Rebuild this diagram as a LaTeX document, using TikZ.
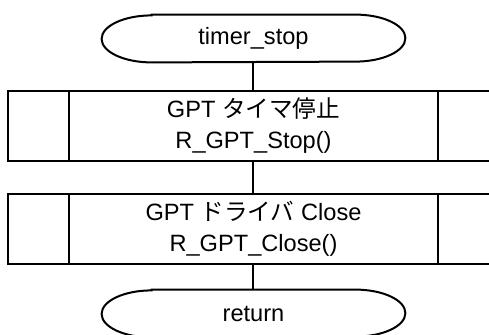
\documentclass[tikz,border=0pt]{standalone}
\usepackage{fontspec}
\setmainfont{Liberation Sans}
\newfontfamily\jpfont{Noto Sans CJK JP}
\usetikzlibrary{positioning}

\tikzset{
  every node/.style={font=\fontsize{11.8pt}{12.75pt}\selectfont},
  flow/.style={line width=1pt},
  terminal/.style={minimum width=151.5pt, minimum height=23.5pt, inner sep=0pt},
  process/.style={draw, line width=1pt, minimum width=245.5pt, minimum height=35pt,
    inner sep=0pt, align=center,
    path picture={
      \draw[line width=1pt] ([xshift=30.5pt]path picture bounding box.north west)
        -- ([xshift=30.5pt]path picture bounding box.south west);
      \draw[line width=1pt] ([xshift=-30.5pt]path picture bounding box.north east)
        -- ([xshift=-30.5pt]path picture bounding box.south east);
    }}
}
\newcommand{\termframe}[1]{%
  \draw[flow] ([xshift=25pt]#1.north west) -- ([xshift=-25pt]#1.north east)
    arc[start angle=90, end angle=-90, x radius=25pt, y radius=11.75pt]
    -- ([xshift=25pt]#1.south west)
    arc[start angle=270, end angle=90, x radius=25pt, y radius=11.75pt] -- cycle;}

\begin{document}
\begin{tikzpicture}[x=0.5pt,y=-0.5pt]
  \useasboundingbox (0,0) rectangle (489,334);
  \clip (0,0) rectangle (489,334);
  % terminals and process boxes
  \node[terminal] (start) at (253.5,38.5) {timer\_stop};
  \node[process] (stop) at (253.5,125.5) {GPT {\jpfont タイマ停止}\\[3pt]R\_GPT\_Stop()};
  \node[process] (close) at (253.5,229) {GPT {\jpfont ドライバ} Close\\[3pt]R\_GPT\_Close()};
  \node[terminal] (ret) at (253.5,313.5) {return};
  \termframe{start}
  \termframe{ret}
  % flow lines
  \draw[flow] (start) -- (stop);
  \draw[flow] (stop) -- (close);
  \draw[flow] (close) -- (ret);
\end{tikzpicture}
\end{document}
